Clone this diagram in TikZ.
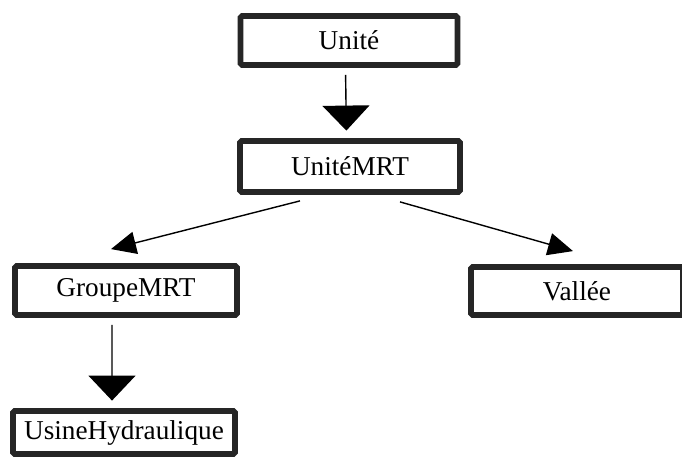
\documentclass[tikz,border=0pt]{standalone}
\usepackage{fontspec}
\setmainfont{Liberation Serif}
\usetikzlibrary{arrows.meta}

\begin{document}
\begin{tikzpicture}[line width=0.3mm]
\tikzstyle{every node}=[font=\fontsize{15.5}{18}\selectfont]
\tikzstyle{classe}=[draw=black!85, line width=3.3pt, rounded corners=1pt, fill=white, inner sep=0pt]
\tikzstyle{herite}=[-{Triangle[length=0.5cm,width=0.94cm]}, black, line width=0.8pt, shorten <=0.14cm, shorten >=0.15cm]
\tikzstyle{lien}=[-{Triangle[length=0.5cm,width=0.45cm]}, black, line width=0.8pt]
\useasboundingbox (0,0) rectangle (13.64,-9.16);
\node[classe, minimum width=4.34cm, minimum height=0.98cm] (unite) at (6.98,-0.81) {Unité};
\node[classe, minimum width=4.40cm, minimum height=1.02cm] (umrt) at (7.0,-3.33) {UnitéMRT};
\node[classe, minimum width=4.44cm, minimum height=0.98cm] (gmrt) at (2.52,-5.81) {GroupeMRT};
\node[classe, minimum width=4.24cm, minimum height=0.96cm] (vallee) at (11.54,-5.82) {Vallée};
\node[classe, minimum width=4.44cm, minimum height=0.86cm] (usine) at (2.48,-8.65) {UsineHydraulique};
\draw[herite] ([xshift=-0.07cm]unite.south) -- ([xshift=-0.07cm]umrt.north);
\draw[lien] ([xshift=-1cm,yshift=-0.12cm]umrt.south) -- ([xshift=-0.3cm,yshift=0.28cm]gmrt.north);
\draw[lien] ([xshift=1cm,yshift=-0.14cm]umrt.south) -- ([xshift=-0.08cm,yshift=0.26cm]vallee.north);
\draw[herite] ([xshift=-0.28cm]gmrt.south) -- ([xshift=-0.24cm]usine.north);
\end{tikzpicture}
\end{document}
